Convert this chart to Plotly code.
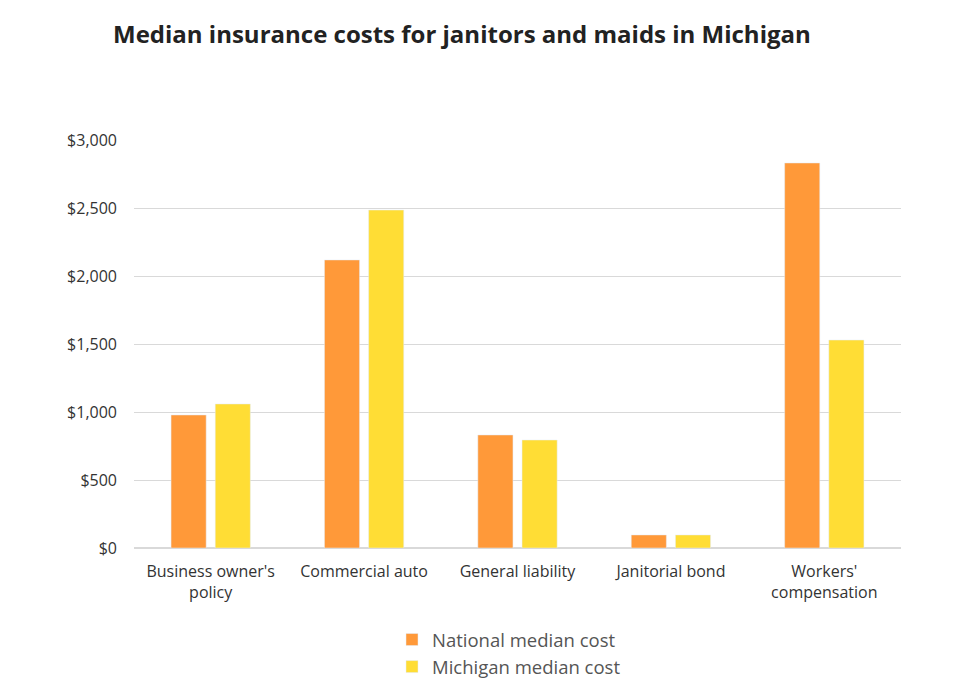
import plotly.graph_objects as go

categories = ["Business owner's<br>policy", "Commercial auto", "General liability",
              "Janitorial bond", "Workers'<br>compensation"]
national = [978, 2118, 831, 96, 2831]
michigan = [1059, 2485, 794, 96, 1529]
tick_vals = [0, 500, 1000, 1500, 2000, 2500, 3000]
tick_text = ["$0", "$500", "$1,000", "$1,500", "$2,000", "$2,500", "$3,000"]

fig = go.Figure()
fig.add_trace(go.Bar(x=categories, y=national, name="National median cost",
                     marker_color="#FF9939"))
fig.add_trace(go.Bar(x=categories, y=michigan, name="Michigan median cost",
                     marker_color="#FFDD35"))

fig.update_layout(
    width=957, height=683,
    paper_bgcolor="white", plot_bgcolor="white",
    font=dict(family="Open Sans", size=16, color="#333333"),
    title=dict(text="<b>Median insurance costs for janitors and maids in Michigan</b>",
               x=105/957, xanchor="left", y=1-27/683, yanchor="middle",
               font=dict(family="Open Sans", size=24, color="#222222")),
    margin=dict(l=126, r=64, t=132, b=143, autoexpand=False),
    barmode="group", bargap=0.424, bargroupgap=0.205,
    showlegend=True,
    legend=dict(orientation="v", xref="container", yref="container",
                x=384/957, xanchor="left", y=1-613/683, yanchor="top",
                font=dict(size=18.5, color="#555555"), itemwidth=30),
    xaxis=dict(showgrid=False, showline=False, ticks="", automargin=False,
               ticklabelstandoff=12, tickfont=dict(size=16, color="#333333")),
    yaxis=dict(range=[0, 3000], tickvals=tick_vals, ticktext=tick_text,
               showgrid=True, gridcolor="#d9d9d9", gridwidth=1, zeroline=True,
               zerolinecolor="#d9d9d9", ticks="", ticklabelstandoff=16,
               automargin=False, tickfont=dict(size=16, color="#333333")),
)

fig.write_html("out.html")
